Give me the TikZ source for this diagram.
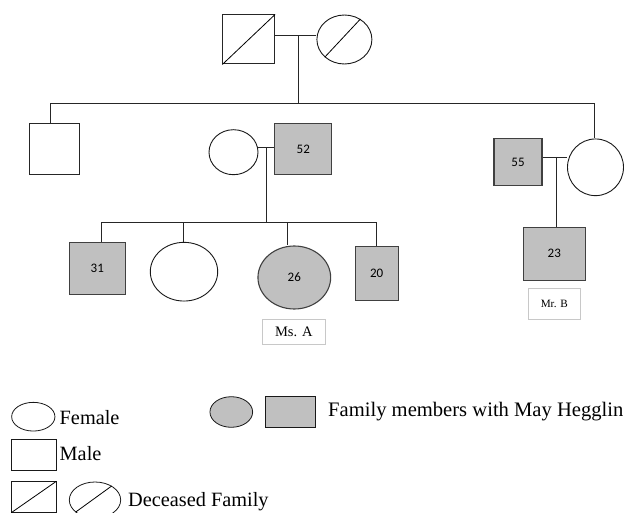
\documentclass[tikz,border=0pt]{standalone}
\usepackage{fontspec}
\setmainfont{Liberation Serif}
\newfontfamily\numfont{Carlito}
\usetikzlibrary{shapes.geometric}
\definecolor{affg}{RGB}{192,192,192}
\definecolor{lblborder}{RGB}{200,200,200}
\pgfdeclarelayer{bg}
\pgfsetlayers{bg,main}
\begin{document}
\begin{tikzpicture}[x=1pt,y=-1pt,
  sq/.style={rectangle,draw=black!85,line width=1pt,fill=white,inner sep=0pt,minimum width=#1},
  el/.style={ellipse,draw=black!90,line width=0.9pt,fill=white,inner sep=0pt},
  aff/.style={fill=affg,draw=black!75,line width=1.1pt},
  num/.style={font=\numfont\fontsize{13}{15}\selectfont},
  lbl/.style={rectangle,draw=lblborder,line width=0.8pt,fill=white,inner sep=0pt},
  conn/.style={draw=black!85,line width=0.9pt},
  lg/.style={draw=black!90,line width=0.8pt,inner sep=0pt},
  lgtext/.style={inner sep=0pt,font=\fontsize{20.3}{24}\selectfont}]
\useasboundingbox (0,0) rectangle (624,513);

% generation I
\node[sq=51.7pt,minimum height=49pt] (F) at (248.7,39.5) {};
\node[el,minimum width=55pt,minimum height=49pt] (M) at (344.4,39.5) {};
\draw[line width=0.8pt] (F.south west) -- (F.north east);
\draw[line width=0.8pt] (M.222) -- (M.52);

% generation II
\node[sq=50pt,minimum height=51pt] (S1) at (54,149.2) {};
\node[el,minimum width=49pt,minimum height=45pt] (W) at (233.5,152.2) {};
\node[sq=57pt,minimum height=51pt,aff,num] (H52) at (303.3,149.2) {52};
\node[sq=48pt,minimum height=46.7pt,aff,num] (H55) at (518,162.3) {55};
\node[el,minimum width=56pt,minimum height=56.7pt] (D) at (595.5,167.3) {};

% generation III
\node[sq=56pt,minimum height=51.7pt,aff,num] (K31) at (97.3,268.2) {31};
\node[el,minimum width=67.4pt,minimum height=58.7pt] (K0) at (184,271.7) {};
\node[el,minimum width=72.7pt,minimum height=63pt,aff,num] (K26) at (294.3,277.5) {26};
\node[sq=42.7pt,minimum height=53.7pt,aff,num] (K20) at (376.7,273.8) {20};
\node[sq=62pt,minimum height=53pt,aff,num] (C23) at (554.3,253.8) {23};

% labels
\node[lbl,minimum width=62.3pt,minimum height=25pt,font=\fontsize{14.5}{17}\selectfont] (MsA) at (293.8,331.5) {Ms. A};
\node[lbl,minimum width=52pt,minimum height=30.6pt,font=\fontsize{11.2}{13}\selectfont] (MrB) at (554.3,304) {Mr. B};

% connectors
\coordinate (j0) at (298.3,35.7);
\coordinate (b0) at (298.3,103.3);
\coordinate (bl) at (50.7,103.3);
\coordinate (br) at (594,103.3);
\coordinate (j1) at (266.7,147.7);
\coordinate (b1) at (266.7,222.3);
\coordinate (s1) at (101,222.3);
\coordinate (s2) at (183,222.3);
\coordinate (s3) at (287,222.3);
\coordinate (s4) at (376.3,222.3);
\coordinate (j2) at (556.7,157);
\begin{pgfonlayer}{bg}
\draw[conn] (F.east |- j0) -- (M.west |- j0);
\draw[conn] (j0) -- (b0);
\draw[conn] (bl) -- (br);
\draw[conn] (bl) -- (bl |- S1.north);
\draw[conn] (br) -- (br |- D.north);
\draw[conn] (W.east |- j1) -- (H52.west |- j1);
\draw[conn] (j1) -- (b1);
\draw[conn] (s1) -- (s4);
\draw[conn] (s1) -- (s1 |- K31.north);
\draw[conn] (s2) -- (s2 |- K0.north);
\draw[conn] (s3) -- (s3 |- K26.north);
\draw[conn] (s4) -- (s4 |- K20.north);
\draw[conn] (H55.east |- j2) -- (D.west |- j2);
\draw[conn] (j2) -- (j2 |- C23.north);
\end{pgfonlayer}

% legend
\node[lg,ellipse,minimum width=43.3pt,minimum height=28.7pt] (lf) at (33.3,416.7) {};
\node[lgtext,anchor=base west] (tf) at (59.5,424) {Female};
\node[lg,rectangle,minimum width=44.3pt,minimum height=30.7pt] (lm) at (33.8,454.7) {};
\node[lgtext,anchor=base west] (tm) at (59.5,460) {Male};
\node[lg,rectangle,minimum width=44.3pt,minimum height=30.6pt] (ldm) at (33.8,497) {};
\draw[line width=0.8pt] (ldm.south west) -- (ldm.north east);
\node[lg,ellipse,minimum width=51.4pt,minimum height=36pt] (ldf) at (95,500) {};
\draw[line width=0.8pt] (ldf.212) -- (ldf.40);
\node[lgtext,anchor=base west] (td) at (128,506.7) {Deceased Family};
\node[lg,ellipse,fill=affg,minimum width=42.7pt,minimum height=30.6pt] (lae) at (231.3,412) {};
\node[lg,rectangle,fill=affg,minimum width=50.7pt,minimum height=30.6pt] (lar) at (290.3,412) {};
\node[lgtext,anchor=base west,font=\fontsize{20.6}{24}\selectfont] (ta) at (328,416.7) {Family members with May Hegglin};
\end{tikzpicture}
\end{document}
